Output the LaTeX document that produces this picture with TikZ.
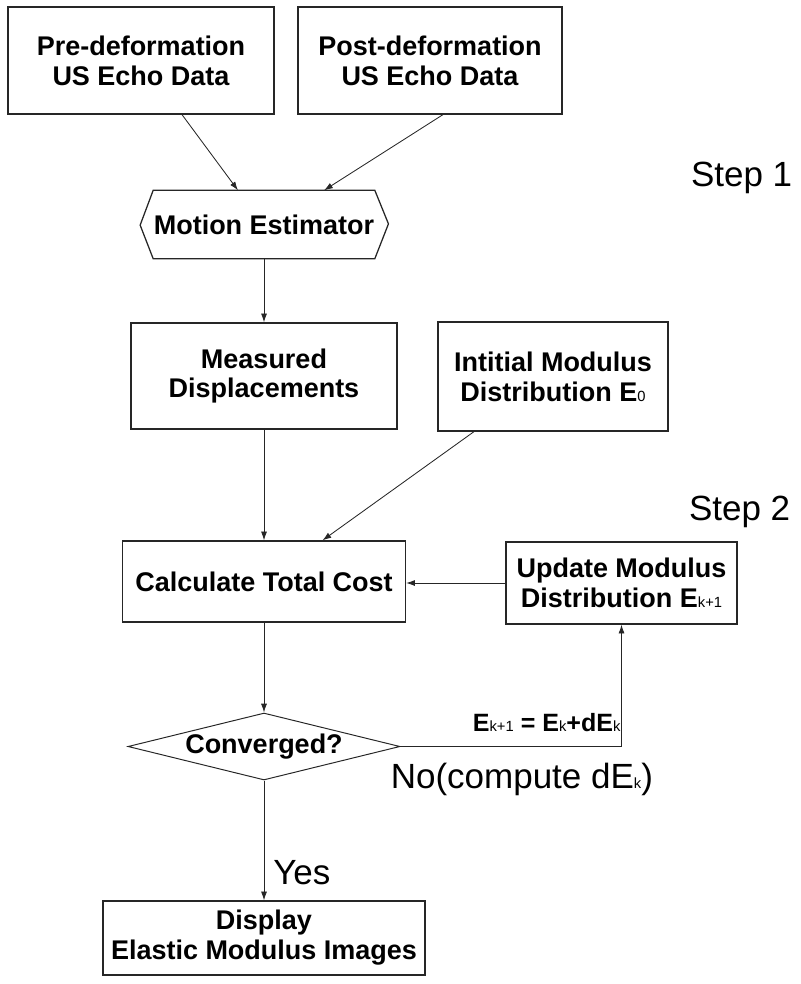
\documentclass[tikz,border=0pt]{standalone}
\usepackage{fontspec}
\setmainfont{Liberation Sans}
\usetikzlibrary{calc, shapes.geometric, arrows.meta}
\newcommand{\idx}[1]{{\mdseries\fontsize{10.5pt}{10.5pt}\selectfont #1}}
\tikzset{
    block/.style = {
        draw           = black!85,
        line width     = 0.9pt,
        align          = center,
        inner sep      = 0pt,
        font           = \bfseries\fontsize{19.2pt}{21.3pt}\selectfont,
    },
    flow/.style = {
        draw       = black!85,
        line width = 0.6pt,
        -{Latex[length=2.2mm, width=1.5mm]},
    },
    note/.style = {
        inner sep = 0pt,
        font      = \fontsize{24.9pt}{26pt}\selectfont,
    },
}

\begin{document}
\begin{tikzpicture}
        \useasboundingbox (0, 0) rectangle (20, -24.6);

        \node at (3.525, -1.5125) (pre) [block, minimum width=6.65cm, minimum height=2.675cm] {Pre-deformation\\US Echo Data};
        \node at (10.75, -1.5125) (post) [block, minimum width=6.6cm, minimum height=2.675cm] {Post-deformation\\US Echo Data};

        \node at (6.6, -5.6125) (est) [block, draw=none, minimum width=5.45cm, minimum height=1.675cm] {Motion Estimator};
        \draw [line width=0.9pt, draw=black!85] (est.north west) -- (est.north east) -- ++(0.34cm, -0.8375cm) -- (est.south east) -- (est.south west) -- ++(-0.325cm, 0.8375cm) -- cycle;

        \node at (6.6, -9.4) (meas) [block, minimum width=6.65cm, minimum height=2.65cm] {Measured\\Displacements};
        \node at (13.825, -9.4125) (init) [block, minimum width=5.75cm, minimum height=2.725cm] {Intitial Modulus\\Distribution E\idx{0}};

        \node at (6.6, -14.5375) (cost) [block, minimum width=7.075cm, minimum height=2.025cm] {Calculate Total Cost};
        \node at (15.5375, -14.575) (upd) [block, minimum width=5.775cm, minimum height=2.05cm] {Update Modulus\\Distribution E\idx{k+1}};

        \node at (6.6, -18.6625) (conv) [block, diamond, aspect=4.06, line width=0.7pt, minimum width=6.8cm, minimum height=1.675cm] {Converged?};
        \node at (6.6, -23.45) (disp) [block, minimum width=8.05cm, minimum height=1.85cm] {Display\\Elastic Modulus Images};

        \node at (18.54, -4.675) (step1) [note, anchor=base] {Step 1};
        \node at (18.49, -13.0) (step2) [note, anchor=base] {Step 2};

        \draw [flow] ([xshift=1.025cm]pre.south) -- ([xshift=-0.65cm]est.north);
        \draw [flow] ([xshift=0.325cm]post.south) -- ([xshift=1.5cm]est.north);
        \draw [flow] (est.south) -- (meas.north);
        \draw [flow] (meas.south) -- (cost.north);
        \draw [flow] ([xshift=-1.975cm]init.south) -- ([xshift=1.4625cm]cost.north);
        \draw [flow] (upd.west) -- (upd.west -| cost.east);
        \draw [flow] (cost.south) -- (conv.north);
        \draw [flow] (conv.east) -| (upd.south) node [pos=0.5, anchor=south east, inner xsep=0.5pt, inner ysep=0.35cm, font=\bfseries\fontsize{17.8pt}{18pt}\selectfont] {E\idx{k+1} = E\idx{k}+dE\idx{k}};
        \draw [flow] (conv.south) -- (disp.north);

        \node at ([xshift=-0.25cm, yshift=-1.04cm]conv.east) (no) [note, anchor=base west] {No(compute dE\idx{k})};
        \node at ([xshift=0.225cm, yshift=0.4cm]disp.north) (yes) [note, anchor=base west] {Yes};

    \end{tikzpicture}
\end{document}
